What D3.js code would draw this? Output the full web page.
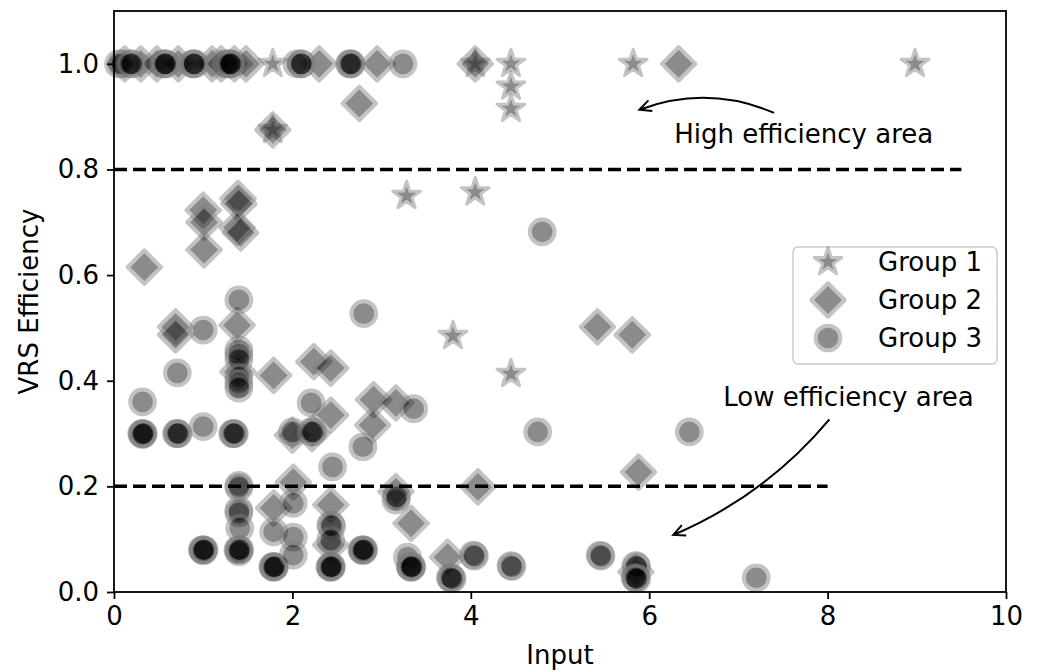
<!DOCTYPE html>
<html>
<head>
<meta charset="utf-8">
<script src="https://cdn.jsdelivr.net/npm/d3@7"></script>
<style>
  body { margin: 0; background: #fff; }
  text { font-family: "DejaVu Sans", sans-serif; fill: #000; }
</style>
</head>
<body>
<svg id="chart" width="1040" height="672"></svg>
<script>
// values: [input, VRS efficiency]
const group1 = [
  [1.78, 1.0], [1.78, 0.875], [3.28, 0.75], [4.05, 1.0], [4.05, 0.757],
  [4.45, 1.0], [4.45, 0.957], [4.45, 0.915], [5.82, 1.0], [8.98, 1.0],
  [3.8, 0.485], [4.45, 0.413]
];
const group2 = [
  [0.12, 1.0], [0.3, 1.0], [0.48, 1.0], [0.72, 1.0], [1.1, 1.0], [1.2, 1.0],
  [1.35, 1.0], [1.48, 1.0], [2.3, 1.0], [2.95, 1.0], [4.05, 1.0], [6.33, 1.0],
  [1.78, 0.875], [2.75, 0.925], [0.34, 0.615],
  [1.0, 0.723], [1.01, 0.7], [1.01, 0.648], [1.39, 0.745], [1.4, 0.735],
  [1.38, 0.69], [1.42, 0.68],
  [0.69, 0.502], [0.69, 0.487], [1.38, 0.505], [1.39, 0.417], [1.79, 0.41],
  [2.24, 0.436], [2.43, 0.424], [2.43, 0.335], [2.0, 0.297], [2.22, 0.3],
  [2.91, 0.364], [3.16, 0.358], [2.9, 0.316],
  [2.01, 0.208], [1.79, 0.159], [2.43, 0.165], [2.43, 0.089], [3.16, 0.19],
  [3.33, 0.13], [3.74, 0.066], [4.08, 0.199], [5.88, 0.227], [5.85, 0.038],
  [5.42, 0.502], [5.81, 0.487]
];
const group3 = [
  [0.05, 1.0], [0.09, 1.0], [0.18, 1.0], [0.2, 1.0], [0.56, 1.0], [0.57, 1.0],
  [0.58, 1.0], [0.88, 1.0], [0.9, 1.0], [0.9, 1.0], [1.25, 1.0], [1.28, 1.0],
  [1.3, 1.0], [1.31, 1.0], [2.05, 1.0], [2.1, 1.0], [2.1, 1.0], [2.64, 1.0],
  [2.65, 1.0], [2.66, 1.0], [3.24, 1.0],
  [4.8, 0.682], [2.8, 0.527], [1.4, 0.553], [1.0, 0.496],
  [1.4, 0.458], [1.4, 0.45], [1.4, 0.44], [1.4, 0.407], [1.4, 0.395], [1.4, 0.386],
  [0.71, 0.415], [0.32, 0.36],
  [0.31, 0.3], [0.32, 0.3], [0.32, 0.298], [0.33, 0.3],
  [0.7, 0.3], [0.71, 0.3], [0.72, 0.3], [1.0, 0.313],
  [1.33, 0.3], [1.34, 0.3], [1.35, 0.3],
  [2.21, 0.358], [2.0, 0.303], [2.21, 0.303], [2.23, 0.303], [2.79, 0.275],
  [3.36, 0.347], [2.45, 0.237], [4.75, 0.303], [6.45, 0.303],
  [1.4, 0.202], [1.4, 0.198], [1.4, 0.155], [1.4, 0.15], [1.41, 0.121],
  [1.39, 0.08], [1.4, 0.08], [1.4, 0.076], [1.41, 0.08],
  [0.99, 0.08], [1.0, 0.08], [1.0, 0.078], [1.01, 0.08],
  [1.78, 0.048], [1.79, 0.048], [1.79, 0.046], [1.8, 0.048], [1.79, 0.114],
  [2.01, 0.168], [2.01, 0.104], [2.01, 0.07],
  [2.43, 0.127], [2.44, 0.125], [2.43, 0.098],
  [2.42, 0.048], [2.43, 0.048], [2.43, 0.046], [2.44, 0.048],
  [2.78, 0.08], [2.79, 0.08], [2.79, 0.078], [2.8, 0.08],
  [3.16, 0.174], [3.17, 0.18], [3.29, 0.066],
  [3.32, 0.048], [3.33, 0.048], [3.33, 0.046], [3.34, 0.048],
  [3.77, 0.027], [3.78, 0.027], [3.79, 0.025],
  [4.03, 0.07], [4.04, 0.068], [4.45, 0.05], [4.46, 0.048],
  [5.45, 0.07], [5.46, 0.068], [5.85, 0.05], [5.86, 0.048],
  [5.84, 0.027], [5.85, 0.027], [5.86, 0.025], [7.2, 0.027]
];
const groupNames = ["Group 1", "Group 2", "Group 3"];
const xTicks = [0, 2, 4, 6, 8, 10];
const yTicks = [0.0, 0.2, 0.4, 0.6, 0.8, 1.0];
// threshold lines: [y, x end]
const thresholds = [[0.8, 9.5], [0.2, 8.0]];

const svg = d3.select("#chart");
const margin = { left: 114, right: 34, top: 11, bottom: 80 };
const width = 1040, height = 672;

const x = d3.scaleLinear().domain([0, 10]).range([margin.left, width - margin.right]);
const y = d3.scaleLinear().domain([0, 1.1]).range([height - margin.bottom, margin.top]);

// marker shapes (d3.symbol sizes are areas)
const shapes = [
  d3.symbol().type(d3.symbolStar).size(240)(),
  d3.symbol().type(d3.symbolSquare).size(560)(),
  d3.symbol().type(d3.symbolCircle).size(480)()
];
const rotations = [0, 45, 0];
const strokeW = [3, 4, 4];

function drawMarkers(g, data, i) {
  g.selectAll("path.m" + i)
    .data(data)
    .enter()
    .append("path")
    .attr("class", "m" + i)
    .attr("d", shapes[i])
    .attr("transform", (d) => `translate(${x(d[0])},${y(d[1])}) rotate(${rotations[i]})`)
    .attr("fill", "#000")
    .attr("stroke", "#7c7c7c")
    .attr("stroke-width", strokeW[i])
    .attr("stroke-linejoin", "round")
    .attr("opacity", 0.45);
}

const plot = svg.append("g");
[group1, group2, group3].forEach((data, i) => drawMarkers(plot, data, i));

// dashed threshold lines
plot.selectAll("line.thr")
  .data(thresholds)
  .enter()
  .append("line")
  .attr("class", "thr")
  .attr("x1", x(0))
  .attr("x2", (d) => x(d[1]))
  .attr("y1", (d) => y(d[0]))
  .attr("y2", (d) => y(d[0]))
  .attr("stroke", "#000")
  .attr("stroke-width", 3.5)
  .attr("stroke-dasharray", "13,6");

// axes
const xAxis = d3.axisBottom(x).tickValues(xTicks).tickSize(7).tickPadding(8)
  .tickFormat(d3.format("d"));
const yAxis = d3.axisLeft(y).tickValues(yTicks).tickSize(7).tickPadding(8)
  .tickFormat(d3.format(".1f"));

svg.append("g")
  .attr("transform", `translate(0,${y(0)})`)
  .call(xAxis)
  .call((g) => g.select(".domain").remove());
svg.append("g")
  .attr("transform", `translate(${x(0)},0)`)
  .call(yAxis)
  .call((g) => g.select(".domain").remove());
svg.selectAll(".tick line").attr("stroke", "#000").attr("stroke-width", 1.8);
svg.selectAll(".tick text").attr("font-size", 26).attr("fill", "#000")
  .attr("font-family", "DejaVu Sans");

// frame
svg.append("rect")
  .attr("x", x(0))
  .attr("y", y(1.1))
  .attr("width", x(10) - x(0))
  .attr("height", y(0) - y(1.1))
  .attr("fill", "none")
  .attr("stroke", "#000")
  .attr("stroke-width", 1.8);

// axis titles
svg.append("text")
  .attr("x", (x(0) + x(10)) / 2)
  .attr("y", 664)
  .attr("text-anchor", "middle")
  .attr("font-size", 26)
  .text("Input");
svg.append("text")
  .attr("transform", `translate(38,${(y(0) + y(1.1)) / 2}) rotate(-90)`)
  .attr("text-anchor", "middle")
  .attr("font-size", 26)
  .text("VRS Efficiency");

// annotations: text position, arrow start, arrow end, curvature
const notes = [
  { label: "High efficiency area", text: [6.28, 0.85], from: [7.4, 0.907], to: [5.89, 0.913], rad: -0.2 },
  { label: "Low efficiency area", text: [6.83, 0.352], from: [8.02, 0.327], to: [6.27, 0.108], rad: 0.12 }
];

notes.forEach((n) => {
  svg.append("text")
    .attr("x", x(n.text[0]))
    .attr("y", y(n.text[1]))
    .attr("font-size", 26)
    .text(n.label);

  let x1 = x(n.from[0]), y1 = y(n.from[1]);
  let x2 = x(n.to[0]), y2 = y(n.to[1]);
  let dx = x2 - x1, dy = y2 - y1;
  let cx = (x1 + x2) / 2 + n.rad * dy,
    cy = (y1 + y2) / 2 - n.rad * dx;
  let p = d3.path();
  p.moveTo(x1, y1);
  p.quadraticCurveTo(cx, cy, x2, y2);

  // open arrow head along the end tangent
  let ang = Math.atan2(y2 - cy, x2 - cx);
  let len = 13, spread = 0.45;
  p.moveTo(x2 - len * Math.cos(ang - spread), y2 - len * Math.sin(ang - spread));
  p.lineTo(x2, y2);
  p.lineTo(x2 - len * Math.cos(ang + spread), y2 - len * Math.sin(ang + spread));

  svg.append("path")
    .attr("d", p.toString())
    .attr("fill", "none")
    .attr("stroke", "#000")
    .attr("stroke-width", 2);
});

// legend
const legend = svg.append("g").attr("transform", "translate(793,247)");
legend.append("rect")
  .attr("width", 204)
  .attr("height", 117)
  .attr("rx", 5)
  .attr("fill", "#fff")
  .attr("fill-opacity", 0.8)
  .attr("stroke", "#ccc")
  .attr("stroke-width", 1.5);

let rows = legend.selectAll("g.row")
  .data(groupNames)
  .enter()
  .append("g")
  .attr("class", "row")
  .attr("transform", (d, i) => `translate(0,${15 + i * 38})`);
rows.append("path")
  .attr("d", (d, i) => shapes[i])
  .attr("transform", (d, i) => `translate(35,0) rotate(${rotations[i]})`)
  .attr("fill", "#000")
  .attr("stroke", "#7c7c7c")
  .attr("stroke-width", (d, i) => strokeW[i])
  .attr("stroke-linejoin", "round")
  .attr("opacity", 0.45);
rows.append("text")
  .attr("x", 85)
  .attr("y", 9)
  .attr("font-size", 26)
  .text((d) => d);
</script>
</body>
</html>
